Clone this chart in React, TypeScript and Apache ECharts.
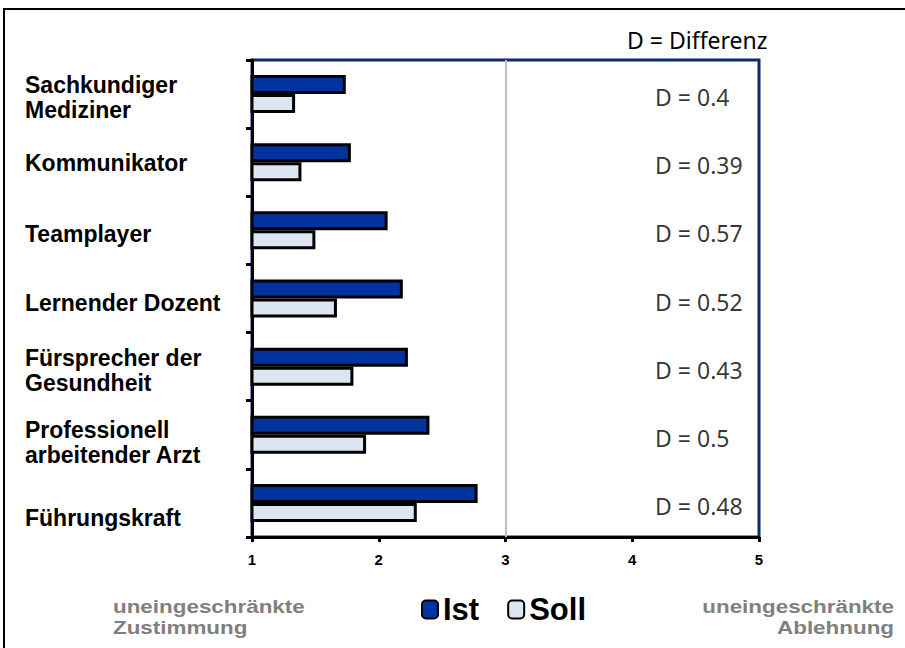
import React, { useEffect, useRef } from "react";
import * as echarts from "echarts";

const categories = [
  "Sachkundiger\nMediziner",
  "Kommunikator",
  "Teamplayer",
  "Lernender Dozent",
  "Fürsprecher der\nGesundheit",
  "Professionell\narbeitender Arzt",
  "Führungskraft",
];
const labelShift = [3, 1, 4, 4, 4, 8, 15];
const istValues = [1.74, 1.78, 2.07, 2.19, 2.23, 2.4, 2.78];
const sollValues = [1.34, 1.39, 1.5, 1.67, 1.8, 1.9, 2.3];
const diffLabels = ["0.4", "0.39", "0.57", "0.52", "0.43", "0.5", "0.48"];
const xTicks = [1, 2, 3, 4, 5];

export default function App() {
  const ref = useRef<HTMLDivElement>(null);
  useEffect(() => {
    document.body.style.margin = "0";
    const chart = echarts.init(ref.current!, null, { renderer: "svg" });
    const barBorder = { borderColor: "#000", borderWidth: 3 };
    const rich: Record<string, any> = {
      t: {
        fontFamily: "Liberation Sans, Arial",
        fontWeight: "bold",
        fontSize: 23,
        lineHeight: 25,
        color: "#000",
      },
    };
    labelShift.forEach((s, i) => {
      rich["sp" + i] = { fontSize: 1, lineHeight: s * 2, height: s * 2 };
    });
    chart.setOption({
      animation: false,
      backgroundColor: "#fff",
      grid: {
        left: 252,
        right: 146,
        top: 60,
        bottom: 111,
        containLabel: false,
        outerBoundsMode: "none",
        show: true,
        borderColor: "#0B2A6F",
        borderWidth: 3,
        backgroundColor: "transparent",
      },
      legend: {
        data: ["Ist", "Soll"],
        left: 416,
        top: 589,
        itemWidth: 16,
        itemHeight: 18,
        itemGap: 28,
        textStyle: {
          fontFamily: "Liberation Sans, Arial",
          fontWeight: "bold",
          fontSize: 31,
          color: "#000",
        },
        itemStyle: { borderColor: "#000", borderWidth: 2 },
      },
      xAxis: {
        type: "value",
        min: xTicks[0],
        max: xTicks[xTicks.length - 1],
        interval: 1,
        axisLine: { show: true, lineStyle: { color: "#000", width: 3 } },
        axisTick: { show: true, length: 5, lineStyle: { color: "#000", width: 3 } },
        splitLine: { show: false },
        axisLabel: {
          margin: 15,
          fontFamily: "Liberation Sans, Arial",
          fontWeight: "bold",
          fontSize: 15,
          color: "#000",
        },
      },
      yAxis: {
        type: "category",
        inverse: true,
        data: categories,
        axisLine: { show: true, lineStyle: { color: "#000", width: 3 } },
        axisTick: { show: true, length: 6, lineStyle: { color: "#000", width: 3 } },
        axisLabel: {
          align: "left",
          margin: 227,
          fontFamily: "Liberation Sans, Arial",
          fontWeight: "bold",
          fontSize: 23,
          lineHeight: 25,
          color: "#000",
          formatter: (v: string, i: number) =>
            `{sp${i}| }\n` +
            v
              .split("\n")
              .map((l) => `{t|${l}}`)
              .join("\n"),
          rich,
        },
      },
      series: [
        {
          name: "Ist",
          type: "bar",
          data: istValues,
          barWidth: 19,
          barGap: "0%",
          itemStyle: { color: "#0033A0", ...barBorder },
          markLine: {
            silent: true,
            symbol: "none",
            label: { show: false },
            lineStyle: { color: "#C0C0C0", width: 2, type: "solid" },
            data: [{ xAxis: 3 }],
          },
        },
        {
          name: "Soll",
          type: "bar",
          data: sollValues,
          barWidth: 19,
          barGap: "0%",
          itemStyle: { color: "#DCE6F2", ...barBorder },
        },
        {
          name: "D",
          type: "scatter",
          symbolSize: 0,
          data: diffLabels.map((d, i) => [4.18, categories[i], d]),
          label: {
            show: true,
            position: [0, 3],
            align: "left",
            verticalAlign: "middle",
            formatter: (p: any) => "D = " + p.value[2],
            fontFamily: "Noto Sans",
            fontSize: 23,
            color: "#000",
          },
        },
      ],
      graphic: [
        {
          type: "rect",
          shape: { x: 4, y: 9, width: 1000, height: 1000 },
          style: { fill: "none", stroke: "#000", lineWidth: 2 },
          silent: true,
        },
        {
          type: "text",
          x: 627,
          y: 40,
          style: {
            text: "D = Differenz",
            fontFamily: "Noto Sans",
            fontSize: 23,
            fill: "#000",
            verticalAlign: "middle",
          },
        },
        {
          type: "text",
          x: 113,
          y: 596,
          scaleX: 1.18,
          style: {
            text: "uneingeschränkte\nZustimmung",
            fontFamily: "Liberation Sans, Arial",
            fontWeight: "bold",
            fontSize: 19,
            lineHeight: 21,
            fill: "#7F7F7F",
            align: "left",
          },
        },
        {
          type: "text",
          x: 894,
          y: 596,
          scaleX: 1.18,
          style: {
            text: "uneingeschränkte\nAblehnung",
            fontFamily: "Liberation Sans, Arial",
            fontWeight: "bold",
            fontSize: 19,
            lineHeight: 21,
            fill: "#7F7F7F",
            align: "right",
          },
        },
      ],
    });
    return () => chart.dispose();
  }, []);
  return <div ref={ref} style={{ width: 905, height: 648 }} />;
}
